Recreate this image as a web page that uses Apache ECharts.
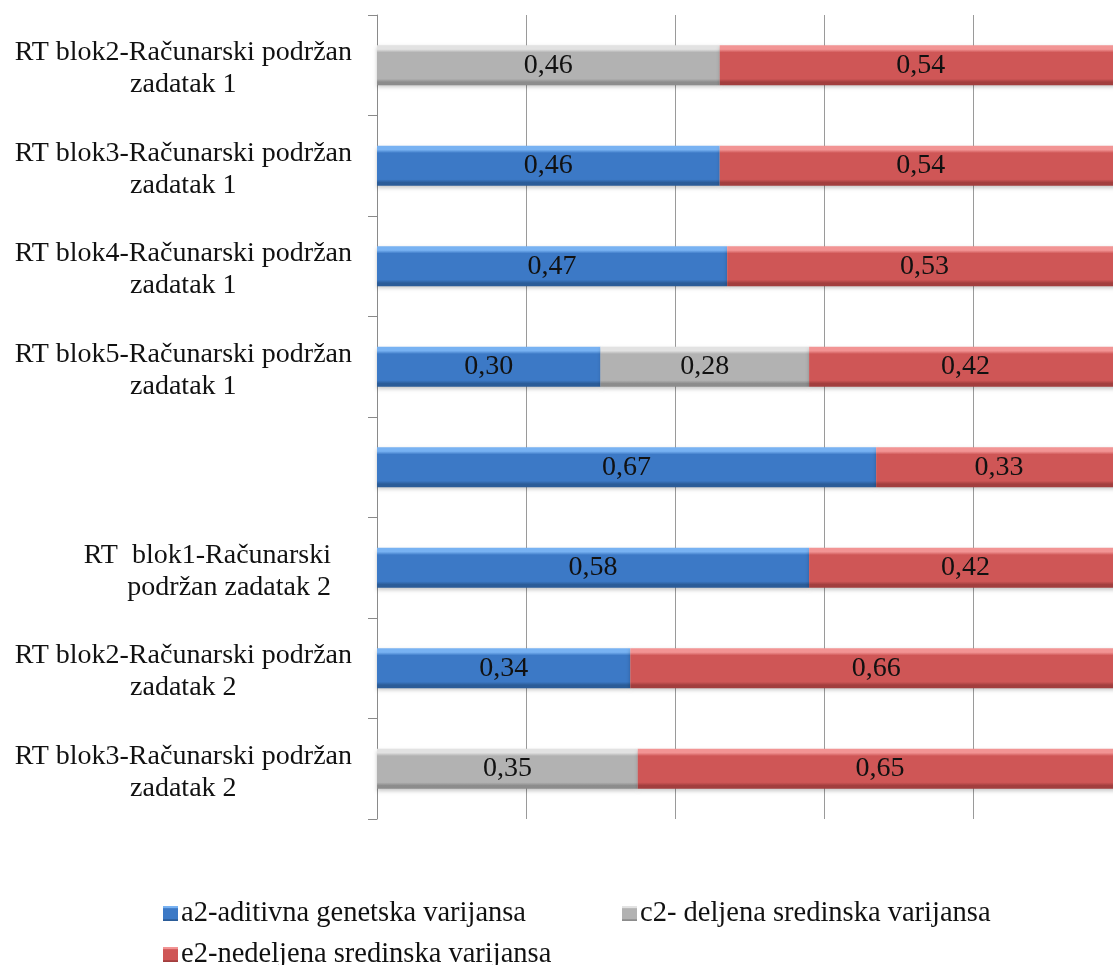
<!DOCTYPE html>
<html>
<head>
<meta charset="utf-8">
<script src="https://cdn.jsdelivr.net/npm/echarts@6/dist/echarts.min.js"></script>
<style>
  html, body { margin: 0; padding: 0; background: #ffffff; }
  #chart { width: 1113px; height: 965px; }
</style>
</head>
<body>
<div id="chart"></div>
<script>
// Categories, top to bottom
const categories = [
  'RT blok2-Računarski podržan\nzadatak 1',
  'RT blok3-Računarski podržan\nzadatak 1',
  'RT blok4-Računarski podržan\nzadatak 1',
  'RT blok5-Računarski podržan\nzadatak 1',
  '',
  'RT  blok1-Računarski\npodržan zadatak 2',
  'RT blok2-Računarski podržan\nzadatak 2',
  'RT blok3-Računarski podržan\nzadatak 2'
];

const seriesNames = [
  'a2-aditivna genetska varijansa',
  'c2- deljena sredinska varijansa',
  'e2-nedeljena sredinska varijansa'
];

// Variance shares per category (null = component not present)
const a2Values = [null, 0.46, 0.47, 0.30, 0.67, 0.58, 0.34, null];
const c2Values = [0.46, null, null, 0.28, null, null, null, 0.35];
const e2Values = [0.54, 0.54, 0.53, 0.42, 0.33, 0.42, 0.66, 0.65];

const xTicks = { min: 0, max: 1, interval: 0.2 };

const FONT = '"Liberation Serif", "DejaVu Serif", serif';

function bevel(light, mid, dark) {
  return new echarts.graphic.LinearGradient(0, 0, 0, 1, [
    { offset: 0, color: light },
    { offset: 0.1, color: light },
    { offset: 0.18, color: mid },
    { offset: 0.84, color: mid },
    { offset: 0.92, color: dark },
    { offset: 1, color: dark }
  ]);
}

const colors = [
  bevel('#78b2f2', '#3c79c6', '#2b5c98'),
  bevel('#e2e2e2', '#b2b2b2', '#8c8c8c'),
  bevel('#f29494', '#cf5656', '#a23e3e')
];

function makeSeries(name, values, color) {
  return {
    name: name,
    type: 'bar',
    stack: 'total',
    barWidth: 40,
    data: values,
    itemStyle: {
      color: color,
      shadowColor: 'rgba(0,0,0,0.22)',
      shadowBlur: 4,
      shadowOffsetY: 2
    },
    label: {
      show: true,
      position: 'inside',
      color: '#111111',
      fontFamily: FONT,
      fontSize: 28,
      formatter: p => p.value == null ? '' : p.value.toFixed(2).replace('.', ',')
    },
    emphasis: { disabled: true }
  };
}

// The shorter two-line label is set flush right, slightly away from the axis
const yAxisData = categories.map(c =>
  c.indexOf('blok1') >= 0 ? { value: c, textStyle: { padding: [7, 21, 0, 0] } } : c
);

const chart = echarts.init(document.getElementById('chart'), null, { renderer: 'canvas' });

chart.setOption({
  animation: false,
  backgroundColor: '#ffffff',
  grid: { left: 377, top: 15, width: 745, height: 804, containLabel: false, outerBoundsMode: 'none' },
  legend: [
    {
      data: [seriesNames[0], seriesNames[1]],
      left: 158, top: 894,
      icon: 'rect', itemWidth: 15, itemHeight: 15, itemGap: 96,
      textStyle: { fontFamily: FONT, fontSize: 28.5, color: '#111111', padding: [0, 0, 0, -2] }
    },
    {
      data: [seriesNames[2]],
      left: 158, top: 935,
      icon: 'rect', itemWidth: 15, itemHeight: 15,
      textStyle: { fontFamily: FONT, fontSize: 28.5, color: '#111111', padding: [0, 0, 0, -2] }
    }
  ],
  xAxis: {
    type: 'value',
    min: xTicks.min, max: xTicks.max, interval: xTicks.interval,
    axisLine: { show: false },
    axisTick: { show: false },
    axisLabel: { show: false },
    splitLine: { show: true, lineStyle: { color: '#9a9a9a', width: 1 } }
  },
  yAxis: {
    type: 'category',
    inverse: true,
    data: yAxisData,
    axisLine: { show: true, lineStyle: { color: '#8a8a8a', width: 1 } },
    axisTick: { show: true, length: 9, lineStyle: { color: '#8a8a8a' } },
    axisLabel: {
      margin: 25,
      padding: [7, 0, 0, 0],
      formatter: v => {
        const key = v.indexOf('blok1') >= 0 ? 'r' : 'c';
        return v.split('\n').map(line => '{' + key + '|' + line + '}').join('\n');
      },
      rich: {
        c: { fontFamily: FONT, fontSize: 28, lineHeight: 32, color: '#111111', align: 'center' },
        r: { fontFamily: FONT, fontSize: 28, lineHeight: 32, color: '#111111', align: 'right' }
      }
    },
    splitLine: { show: false }
  },
  series: [
    makeSeries(seriesNames[0], a2Values, colors[0]),
    makeSeries(seriesNames[1], c2Values, colors[1]),
    makeSeries(seriesNames[2], e2Values, colors[2])
  ]
});
</script>
</body>
</html>
